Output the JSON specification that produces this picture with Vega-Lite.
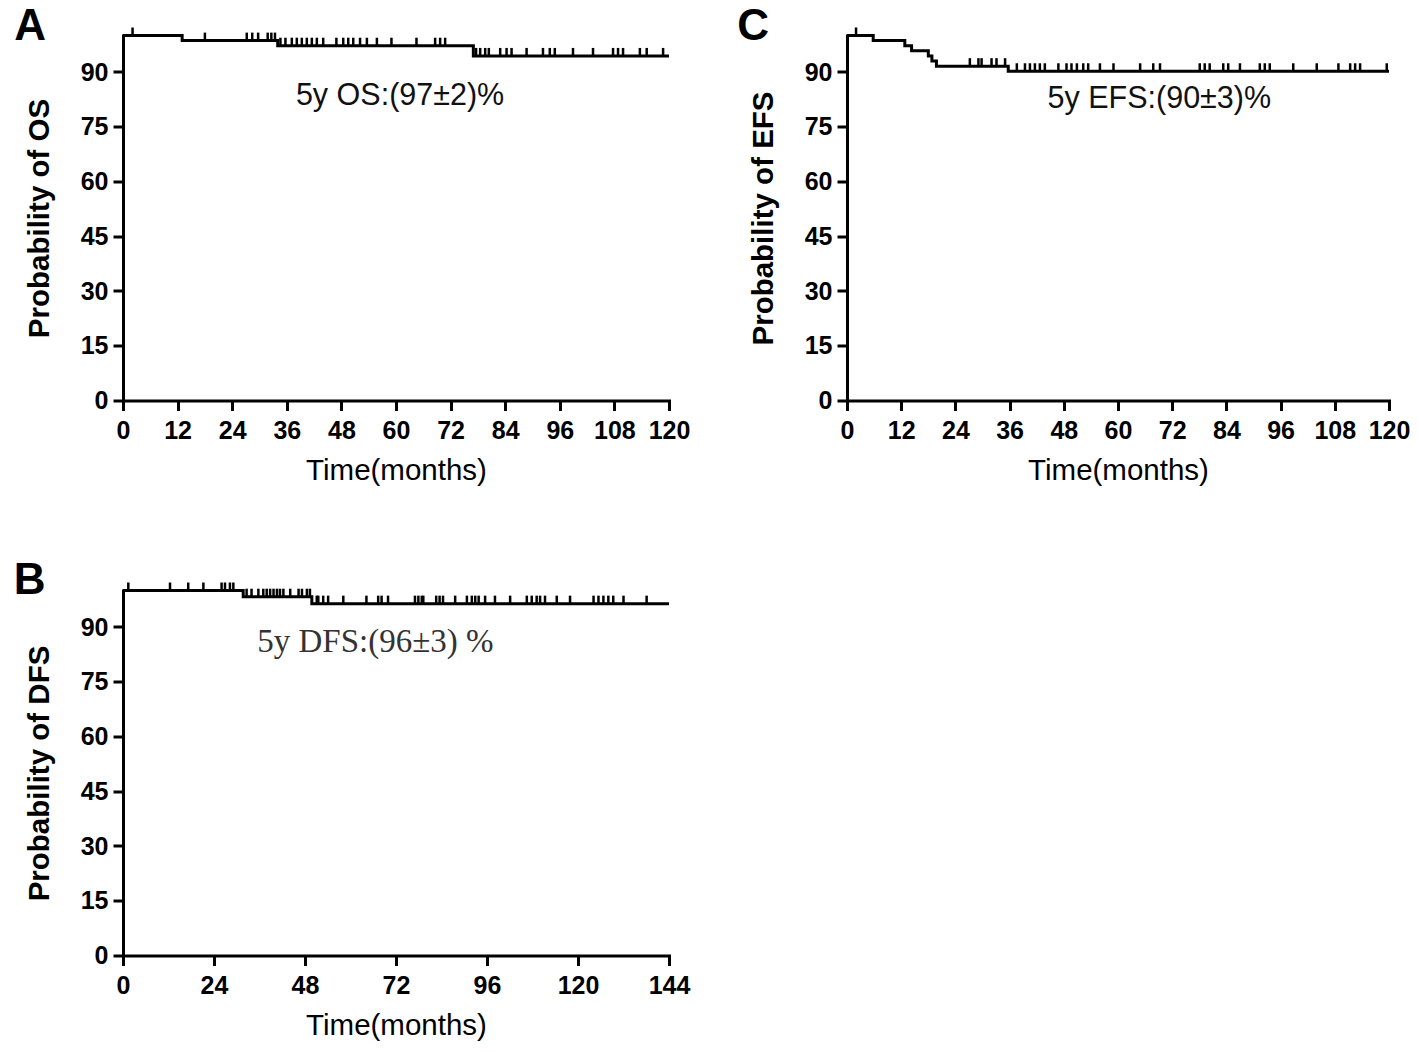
{
  "$schema": "https://vega.github.io/schema/vega-lite/v6.json",
  "background": "white",
  "padding": {"left": 13, "top": 4.5, "right": 5, "bottom": 5},
  "columns": 2,
  "bounds": "flush",
  "spacing": {"row": 190, "column": 178},
  "datasets": {
    "curveA": [{"t":0,"s":100},{"t":13,"s":98.6},{"t":34,"s":97.2},{"t":77,"s":94.4},{"t":120,"s":94.4}],
    "censorA": [
      {"t":2.1,"s":100},
      {"t":18,"s":98.6},{"t":27.2,"s":98.6},{"t":28.4,"s":98.6},{"t":29.7,"s":98.6},{"t":31.8,"s":98.6},{"t":32.6,"s":98.6},{"t":33.4,"s":98.6},
      {"t":34.6,"s":97.2},{"t":35.7,"s":97.2},{"t":37.1,"s":97.2},{"t":38.2,"s":97.2},{"t":39.3,"s":97.2},{"t":40.4,"s":97.2},{"t":41.5,"s":97.2},{"t":42.6,"s":97.2},{"t":44.0,"s":97.2},{"t":46.9,"s":97.2},{"t":48.4,"s":97.2},{"t":49.5,"s":97.2},{"t":50.6,"s":97.2},{"t":52.1,"s":97.2},{"t":53.6,"s":97.2},{"t":55.8,"s":97.2},{"t":59.0,"s":97.2},{"t":64.5,"s":97.2},{"t":68.6,"s":97.2},{"t":69.7,"s":97.2},{"t":70.8,"s":97.2},
      {"t":77.6,"s":94.4},{"t":78.5,"s":94.4},{"t":79.6,"s":94.4},{"t":80.4,"s":94.4},{"t":82.9,"s":94.4},{"t":84.3,"s":94.4},{"t":85.4,"s":94.4},{"t":88.7,"s":94.4},{"t":92.3,"s":94.4},{"t":93.8,"s":94.4},{"t":94.9,"s":94.4},{"t":98.9,"s":94.4},{"t":103.3,"s":94.4},{"t":107.7,"s":94.4},{"t":108.8,"s":94.4},{"t":109.9,"s":94.4},{"t":113.6,"s":94.4},{"t":115.1,"s":94.4},{"t":118.7,"s":94.4}
    ],
    "curveC": [{"t":0,"s":100},{"t":5.8,"s":98.6},{"t":12.8,"s":97.2},{"t":14.3,"s":95.8},{"t":18.0,"s":94.4},{"t":18.8,"s":93.0},{"t":19.8,"s":91.6},{"t":35.7,"s":90.2},{"t":120,"s":90.2}],
    "censorC": [
      {"t":2.0,"s":100},
      {"t":27.2,"s":91.6},{"t":29.1,"s":91.6},{"t":29.8,"s":91.6},{"t":32.0,"s":91.6},{"t":33.1,"s":91.6},{"t":35.0,"s":91.6},
      {"t":37.6,"s":90.2},{"t":39.4,"s":90.2},{"t":40.5,"s":90.2},{"t":41.6,"s":90.2},{"t":42.7,"s":90.2},{"t":43.8,"s":90.2},{"t":46.8,"s":90.2},{"t":48.6,"s":90.2},{"t":49.7,"s":90.2},{"t":50.9,"s":90.2},{"t":52.3,"s":90.2},{"t":53.4,"s":90.2},{"t":56.0,"s":90.2},{"t":59.0,"s":90.2},{"t":64.9,"s":90.2},{"t":67.8,"s":90.2},{"t":69.3,"s":90.2},{"t":78.1,"s":90.2},{"t":79.2,"s":90.2},{"t":80.3,"s":90.2},{"t":83.3,"s":90.2},{"t":84.4,"s":90.2},{"t":87.0,"s":90.2},{"t":91.4,"s":90.2},{"t":92.5,"s":90.2},{"t":93.6,"s":90.2},{"t":98.8,"s":90.2},{"t":104.0,"s":90.2},{"t":108.8,"s":90.2},{"t":111.4,"s":90.2},{"t":112.5,"s":90.2},{"t":113.6,"s":90.2},{"t":119.5,"s":90.2}
    ],
    "curveB": [{"t":0,"s":100},{"t":31.7,"s":98.3},{"t":49.8,"s":96.4},{"t":144,"s":96.4}],
    "censorB": [
      {"t":1.4,"s":100},{"t":12.4,"s":100},{"t":17.2,"s":100},{"t":21.2,"s":100},{"t":26.0,"s":100},{"t":26.9,"s":100},{"t":28.2,"s":100},{"t":29.1,"s":100},
      {"t":32.6,"s":98.3},{"t":33.9,"s":98.3},{"t":35.7,"s":98.3},{"t":37.0,"s":98.3},{"t":37.9,"s":98.3},{"t":38.8,"s":98.3},{"t":39.7,"s":98.3},{"t":40.6,"s":98.3},{"t":41.4,"s":98.3},{"t":42.3,"s":98.3},{"t":44.1,"s":98.3},{"t":46.3,"s":98.3},{"t":47.2,"s":98.3},{"t":48.5,"s":98.3},{"t":49.3,"s":98.3},
      {"t":51.1,"s":96.4},{"t":51.5,"s":96.4},{"t":52.8,"s":96.4},{"t":54.1,"s":96.4},{"t":58.1,"s":96.4},{"t":64.2,"s":96.4},{"t":67.3,"s":96.4},{"t":68.2,"s":96.4},{"t":69.9,"s":96.4},{"t":77.0,"s":96.4},{"t":77.9,"s":96.4},{"t":78.8,"s":96.4},{"t":79.2,"s":96.4},{"t":82.6,"s":96.4},{"t":83.5,"s":96.4},{"t":84.4,"s":96.4},{"t":87.6,"s":96.4},{"t":90.7,"s":96.4},{"t":92.0,"s":96.4},{"t":92.9,"s":96.4},{"t":93.8,"s":96.4},{"t":95.5,"s":96.4},{"t":98.1,"s":96.4},{"t":102.1,"s":96.4},{"t":106.5,"s":96.4},{"t":107.8,"s":96.4},{"t":109.1,"s":96.4},{"t":110.0,"s":96.4},{"t":111.3,"s":96.4},{"t":114.4,"s":96.4},{"t":117.9,"s":96.4},{"t":124.1,"s":96.4},{"t":125.4,"s":96.4},{"t":126.7,"s":96.4},{"t":128.0,"s":96.4},{"t":129.3,"s":96.4},{"t":132.0,"s":96.4},{"t":138.1,"s":96.4}
    ],
    "labelsA": [{"t":-23.9,"s":98.7,"label":"A","kind":"panel"},{"t":38.0,"s":80.9,"label":"5y OS:(97±2)%","kind":"note"}],
    "labelsC": [{"t":-24.3,"s":98.7,"label":"C","kind":"panel"},{"t":44.4,"s":80.1,"label":"5y EFS:(90±3)%","kind":"note"}],
    "labelsB": [{"t":-28.8,"s":99.0,"label":"B","kind":"panel"},{"t":35.4,"s":83.2,"label":"5y DFS:(96±3) %","kind":"note"}]
  },
  "concat": [
    {
      "width": 546, "height": 365,
      "layer": [
        {"data": {"name": "curveA"}, "mark": {"type": "line", "interpolate": "step-after", "color": "black", "strokeWidth": 3},
         "encoding": {
           "x": {"field": "t", "type": "quantitative", "scale": {"domain": [0, 120], "nice": false}, "axis": {"values": [0,12,24,36,48,60,72,84,96,108,120], "title": "Time(months)"}},
           "y": {"field": "s", "type": "quantitative", "scale": {"domain": [0, 100], "nice": false}, "axis": {"values": [0,15,30,45,60,75,90], "title": "Probability of OS"}}}},
        {"data": {"name": "censorA"}, "mark": {"type": "tick", "orient": "vertical", "color": "black", "size": 8, "thickness": 2.5, "yOffset": -4, "opacity": 1},
         "encoding": {"x": {"field": "t", "type": "quantitative"}, "y": {"field": "s", "type": "quantitative"}}},
        {"data": {"name": "labelsA"}, "transform": [{"filter": "datum.kind == 'panel'"}], "mark": {"type": "text", "align": "left", "baseline": "alphabetic", "font": "Liberation Sans", "fontSize": 44, "fontWeight": "bold", "color": "black"},
         "encoding": {"x": {"field": "t", "type": "quantitative"}, "y": {"field": "s", "type": "quantitative"}, "text": {"field": "label"}}},
        {"data": {"name": "labelsA"}, "transform": [{"filter": "datum.kind == 'note'"}], "mark": {"type": "text", "align": "left", "baseline": "alphabetic", "font": "Liberation Sans", "fontSize": 30.5, "color": "#111"},
         "encoding": {"x": {"field": "t", "type": "quantitative"}, "y": {"field": "s", "type": "quantitative"}, "text": {"field": "label"}}}
      ]
    },
    {
      "width": 542, "height": 365,
      "layer": [
        {"data": {"name": "curveC"}, "mark": {"type": "line", "interpolate": "step-after", "color": "black", "strokeWidth": 3},
         "encoding": {
           "x": {"field": "t", "type": "quantitative", "scale": {"domain": [0, 120], "nice": false}, "axis": {"values": [0,12,24,36,48,60,72,84,96,108,120], "title": "Time(months)"}},
           "y": {"field": "s", "type": "quantitative", "scale": {"domain": [0, 100], "nice": false}, "axis": {"values": [0,15,30,45,60,75,90], "title": "Probability of EFS"}}}},
        {"data": {"name": "censorC"}, "mark": {"type": "tick", "orient": "vertical", "color": "black", "size": 8, "thickness": 2.5, "yOffset": -4, "opacity": 1},
         "encoding": {"x": {"field": "t", "type": "quantitative"}, "y": {"field": "s", "type": "quantitative"}}},
        {"data": {"name": "labelsC"}, "transform": [{"filter": "datum.kind == 'panel'"}], "mark": {"type": "text", "align": "left", "baseline": "alphabetic", "font": "Liberation Sans", "fontSize": 44, "fontWeight": "bold", "color": "black"},
         "encoding": {"x": {"field": "t", "type": "quantitative"}, "y": {"field": "s", "type": "quantitative"}, "text": {"field": "label"}}},
        {"data": {"name": "labelsC"}, "transform": [{"filter": "datum.kind == 'note'"}], "mark": {"type": "text", "align": "left", "baseline": "alphabetic", "font": "Liberation Sans", "fontSize": 30.5, "color": "#111"},
         "encoding": {"x": {"field": "t", "type": "quantitative"}, "y": {"field": "s", "type": "quantitative"}, "text": {"field": "label"}}}
      ]
    },
    {
      "width": 546, "height": 365,
      "layer": [
        {"data": {"name": "curveB"}, "mark": {"type": "line", "interpolate": "step-after", "color": "black", "strokeWidth": 3},
         "encoding": {
           "x": {"field": "t", "type": "quantitative", "scale": {"domain": [0, 144], "nice": false}, "axis": {"values": [0,24,48,72,96,120,144], "title": "Time(months)"}},
           "y": {"field": "s", "type": "quantitative", "scale": {"domain": [0, 100], "nice": false}, "axis": {"values": [0,15,30,45,60,75,90], "title": "Probability of DFS"}}}},
        {"data": {"name": "censorB"}, "mark": {"type": "tick", "orient": "vertical", "color": "black", "size": 8, "thickness": 2.5, "yOffset": -4, "opacity": 1},
         "encoding": {"x": {"field": "t", "type": "quantitative"}, "y": {"field": "s", "type": "quantitative"}}},
        {"data": {"name": "labelsB"}, "transform": [{"filter": "datum.kind == 'panel'"}], "mark": {"type": "text", "align": "left", "baseline": "alphabetic", "font": "Liberation Sans", "fontSize": 44, "fontWeight": "bold", "color": "black"},
         "encoding": {"x": {"field": "t", "type": "quantitative"}, "y": {"field": "s", "type": "quantitative"}, "text": {"field": "label"}}},
        {"data": {"name": "labelsB"}, "transform": [{"filter": "datum.kind == 'note'"}], "mark": {"type": "text", "align": "left", "baseline": "alphabetic", "font": "Liberation Serif", "fontSize": 33, "color": "#333"},
         "encoding": {"x": {"field": "t", "type": "quantitative"}, "y": {"field": "s", "type": "quantitative"}, "text": {"field": "label"}}}
      ]
    }
  ],
  "config": {
    "view": {"stroke": null},
    "axis": {
      "grid": false, "domainColor": "black", "domainWidth": 3, "domainCap": "square",
      "tickColor": "black", "tickWidth": 3, "tickSize": 10,
      "labelFont": "Liberation Sans", "labelFontSize": 25, "labelFontWeight": "bold", "labelColor": "black",
      "labelOverlap": false, "labelFlush": false,
      "titleFont": "Liberation Sans", "titleFontSize": 29.5, "titleColor": "black"
    },
    "axisX": {"labelPadding": 8, "titlePadding": 13, "titleFontWeight": "normal"},
    "axisY": {"labelPadding": 5, "titlePadding": 26, "titleFontWeight": "bold"}
  }
}
